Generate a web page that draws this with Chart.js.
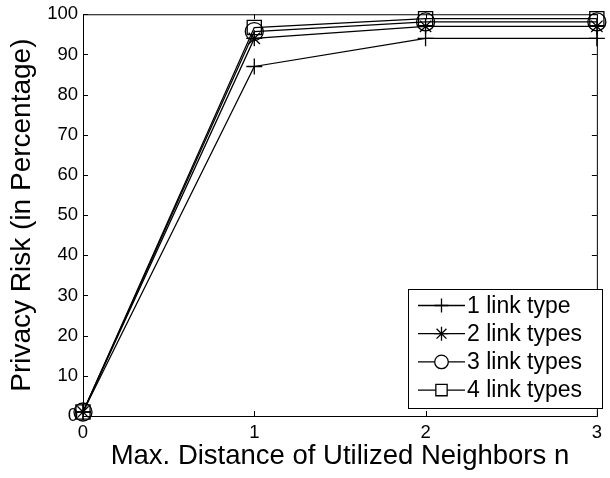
<!DOCTYPE html>
<html>
<head>
<meta charset="utf-8">
<script src="https://cdn.jsdelivr.net/npm/chart.js@4"></script>
<style>
  html, body { margin: 0; padding: 0; background: #fff; }
  #wrap { width: 610px; height: 478px; }
</style>
</head>
<body>
<div id="wrap"><canvas id="riskChart" width="610" height="478"></canvas></div>
<script>
// data
const distances = [0, 1, 2, 3];
const oneLink = [1, 87, 94, 94];
const twoLinks = [1, 94, 97, 97];
const threeLinks = [1, 95.7, 98.1, 98.1];
const fourLinks = [1, 96.7, 98.9, 98.9];
const seriesNames = ['1 link type', '2 link types', '3 link types', '4 link types'];
const xTicks = [0, 1, 2, 3];
const yTicks = [0, 10, 20, 30, 40, 50, 60, 70, 80, 90, 100];

const FONT = '"Liberation Sans", Arial, Helvetica, sans-serif';

function pts(vals) {
  return distances.map((d, i) => ({ x: d, y: vals[i] }));
}

function series(label, vals, style, r, lr) {
  return {
    label: label,
    data: pts(vals),
    borderColor: '#000',
    borderWidth: 1.3,
    pointStyle: style,
    pointRadius: r,
    pointBorderColor: '#000',
    pointBorderWidth: 1.3,
    pointBackgroundColor: 'rgba(0,0,0,0)',
    legendRadius: lr,
    fill: false,
    tension: 0,
    clip: false
  };
}

// MATLAB-like box with inward ticks on all four sides
const boxTicks = {
  id: 'boxTicks',
  beforeDatasetsDraw(chart) {
    const { ctx, chartArea: a, scales } = chart;
    const len = 5;
    ctx.save();
    ctx.strokeStyle = '#000';
    ctx.lineWidth = 1;
    ctx.strokeRect(a.left + 0.5, a.top + 0.5, a.right - a.left, a.bottom - a.top);
    ctx.beginPath();
    xTicks.forEach(v => {
      const px = Math.round(scales.x.getPixelForValue(v)) + 0.5;
      ctx.moveTo(px, a.bottom); ctx.lineTo(px, a.bottom - len);
      ctx.moveTo(px, a.top); ctx.lineTo(px, a.top + len);
    });
    yTicks.forEach(v => {
      const py = Math.round(scales.y.getPixelForValue(v)) + 0.5;
      ctx.moveTo(a.left, py); ctx.lineTo(a.left + len, py);
      ctx.moveTo(a.right, py); ctx.lineTo(a.right - len, py);
    });
    ctx.stroke();
    ctx.restore();
  }
};

// boxed legend in the lower right, line + marker samples
const boxLegend = {
  id: 'boxLegend',
  afterDraw(chart) {
    const { ctx } = chart;
    const x0 = 408, y0 = 289, w = 194, h = 119;
    const rowH = 28.2, firstRow = 305.5;
    ctx.save();
    ctx.fillStyle = '#fff';
    ctx.fillRect(x0, y0, w, h);
    ctx.strokeStyle = '#000';
    ctx.lineWidth = 1;
    ctx.strokeRect(x0 + 0.5, y0 + 0.5, w, h);
    ctx.font = '23px ' + FONT;
    ctx.textBaseline = 'middle';
    ctx.textAlign = 'left';
    chart.data.datasets.forEach((ds, i) => {
      const y = firstRow + i * rowH;
      ctx.strokeStyle = '#000';
      ctx.lineWidth = 1.3;
      ctx.beginPath();
      ctx.moveTo(418, y); ctx.lineTo(465, y);
      ctx.stroke();
      ctx.fillStyle = '#fff';
      Chart.helpers.drawPoint(ctx, {
        pointStyle: ds.pointStyle,
        radius: ds.legendRadius,
        rotation: 0,
        borderWidth: 1.3
      }, 441.5, y);
      ctx.fillStyle = '#000';
      ctx.fillText(ds.label, 467, y + 1);
    });
    ctx.restore();
  }
};

new Chart(document.getElementById('riskChart'), {
  type: 'line',
  data: {
    datasets: [
      series(seriesNames[0], oneLink, 'cross', 8, 7),
      series(seriesNames[1], twoLinks, 'star', 8, 7),
      series(seriesNames[2], threeLinks, 'circle', 9, 6.8),
      series(seriesNames[3], fourLinks, 'rect', 10, 8)
    ]
  },
  options: {
    responsive: false,
    devicePixelRatio: 1,
    animation: false,
    events: [],
    layout: { padding: { left: 0, right: 7, top: 9, bottom: 0 } },
    plugins: {
      legend: { display: false },
      tooltip: { enabled: false }
    },
    scales: {
      x: {
        type: 'linear',
        min: 0,
        max: 3,
        afterBuildTicks(s) { s.ticks = xTicks.map(v => ({ value: v })); },
        afterFit(s) { s.height = 62; },
        grid: { display: false, drawTicks: false },
        border: { display: false },
        ticks: {
          color: '#000',
          padding: 8,
          maxRotation: 0,
          font: { family: FONT, size: 18.5, lineHeight: 1 }
        },
        title: {
          display: true,
          text: 'Max. Distance of Utilized Neighbors n',
          color: '#000',
          padding: { top: 0, bottom: 8 },
          font: { family: FONT, size: 27.5, lineHeight: 1 }
        }
      },
      y: {
        type: 'linear',
        min: 0,
        max: 100,
        afterBuildTicks(s) { s.ticks = yTicks.map(v => ({ value: v })); },
        afterFit(s) { s.width = 83; },
        grid: { display: false, drawTicks: false },
        border: { display: false },
        ticks: {
          color: '#000',
          padding: 5,
          font: { family: FONT, size: 18.5, lineHeight: 1 }
        },
        title: {
          display: true,
          text: 'Privacy Risk (in Percentage)',
          color: '#000',
          padding: { top: 8, bottom: 0 },
          font: { family: FONT, size: 28, lineHeight: 1 }
        }
      }
    }
  },
  plugins: [boxTicks, boxLegend]
});
</script>
</body>
</html>
